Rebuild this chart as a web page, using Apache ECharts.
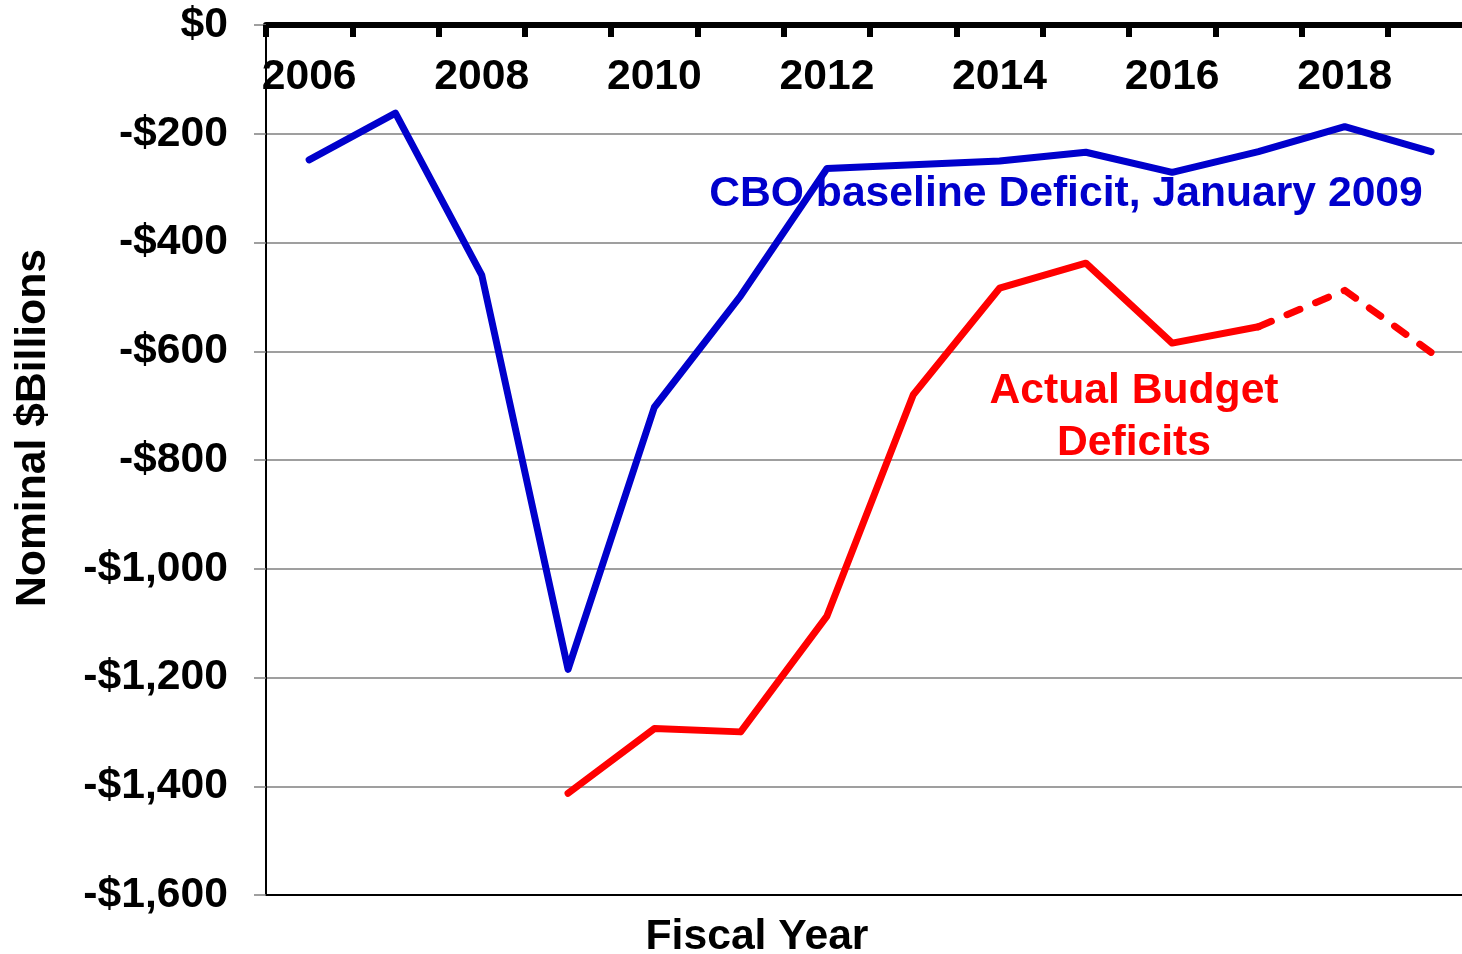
<!DOCTYPE html>
<html>
<head>
<meta charset="utf-8">
<script src="https://cdn.jsdelivr.net/npm/echarts@6/dist/echarts.min.js"></script>
<style>
  html, body { margin: 0; padding: 0; background: #ffffff; }
  #chart { width: 1462px; height: 954px; }
</style>
</head>
<body>
<div id="chart"></div>
<script>
// Fiscal years on the category axis
const years = ['2006', '2007', '2008', '2009', '2010', '2011', '2012', '2013', '2014', '2015', '2016', '2017', '2018', '2019'];

// CBO baseline deficit projection, January 2009 ($ billions)
const cboBaseline = [-248, -162, -460, -1185, -703, -498, -264, -257, -250, -234, -271, -233, -187, -233];

// Actual deficits (solid) and the later years shown dashed
const actualDeficits = [null, null, null, -1413, -1294, -1300, -1087, -680, -484, -438, -585, -555, null, null];
const projectedDeficits = [null, null, null, null, null, null, null, null, null, null, null, -555, -488, -602];

// Y axis range and step
const yMin = -1600, yMax = 0, yStep = 200;

function moneyLabel(v) {
  if (v === 0) return '$0';
  const s = Math.abs(v).toLocaleString('en-US');
  return (v < 0 ? '-$' : '$') + s;
}

const FONT = '"Liberation Sans", Arial, sans-serif';
const FS = 42.67;
const chart = echarts.init(document.getElementById('chart'));

const catWidth = 86.3;
const gridLeft = 266, gridTop = 25, gridHeight = 870;

chart.setOption({
  animation: false,
  backgroundColor: '#ffffff',
  grid: {
    left: gridLeft, top: gridTop, width: catWidth * years.length, height: gridHeight,
    containLabel: false, outerBoundsMode: 'none'
  },
  xAxis: [{
    type: 'category',
    data: years,
    position: 'top',
    boundaryGap: true,
    axisLine: { show: true, onZero: false, lineStyle: { color: '#000000', width: 6 } },
    axisTick: { show: true, inside: true, length: 12, interval: 0, lineStyle: { color: '#000000', width: 6 } },
    axisLabel: {
      inside: true, interval: 1, margin: 31,
      color: '#000000', fontFamily: FONT, fontWeight: 'bold', fontSize: FS
    },
    splitLine: { show: false }
  }, {
    type: 'category',
    data: years,
    position: 'bottom',
    boundaryGap: true,
    axisLine: { show: true, onZero: false, lineStyle: { color: '#000000', width: 2 } },
    axisTick: { show: false },
    axisLabel: { show: false },
    splitLine: { show: false }
  }],
  yAxis: {
    type: 'value',
    min: yMin, max: yMax, interval: yStep,
    axisLine: { show: true, onZero: false, lineStyle: { color: '#000000', width: 2 } },
    axisTick: { show: true, inside: false, length: 12, lineStyle: { color: '#808080', width: 1.5 } },
    axisLabel: {
      margin: 38, formatter: moneyLabel,
      color: '#000000', fontFamily: FONT, fontWeight: 'bold', fontSize: FS
    },
    splitLine: { show: true, lineStyle: { color: '#7f7f7f', width: 1.5 } }
  },
  series: [{
    name: 'CBO baseline Deficit, January 2009',
    type: 'line',
    data: cboBaseline,
    symbol: 'none',
    lineStyle: { color: '#0000cc', width: 7, cap: 'round', join: 'round' },
    z: 3
  }, {
    name: 'Actual Budget Deficits',
    type: 'line',
    data: actualDeficits,
    symbol: 'none',
    lineStyle: { color: '#ff0000', width: 7, cap: 'round', join: 'round' },
    z: 3
  }, {
    name: 'Actual Budget Deficits (later years)',
    type: 'line',
    data: projectedDeficits,
    symbol: 'none',
    lineStyle: { color: '#ff0000', width: 7, type: [14, 17], cap: 'round', join: 'round' },
    z: 3
  }],
  graphic: [{
    type: 'text',
    x: 33, y: 428,
    rotation: Math.PI / 2,
    style: {
      text: 'Nominal $Billions',
      fill: '#000000', font: 'bold ' + FS + 'px ' + FONT,
      textAlign: 'center', textVerticalAlign: 'middle'
    },
    z: 10
  }, {
    type: 'text',
    x: 757, y: 937,
    style: {
      text: 'Fiscal Year',
      fill: '#000000', font: 'bold ' + FS + 'px ' + FONT,
      textAlign: 'center', textVerticalAlign: 'middle'
    },
    z: 10
  }, {
    type: 'text',
    x: 1066, y: 194,
    style: {
      text: 'CBO baseline Deficit, January 2009',
      fill: '#0000cc', font: 'bold ' + FS + 'px ' + FONT,
      textAlign: 'center', textVerticalAlign: 'middle'
    },
    z: 10
  }, {
    type: 'text',
    x: 1134, y: 417,
    style: {
      text: 'Actual Budget\nDeficits',
      fill: '#ff0000', font: 'bold ' + FS + 'px ' + FONT,
      lineHeight: 52,
      textAlign: 'center', textVerticalAlign: 'middle'
    },
    z: 10
  }]
});
</script>
</body>
</html>
